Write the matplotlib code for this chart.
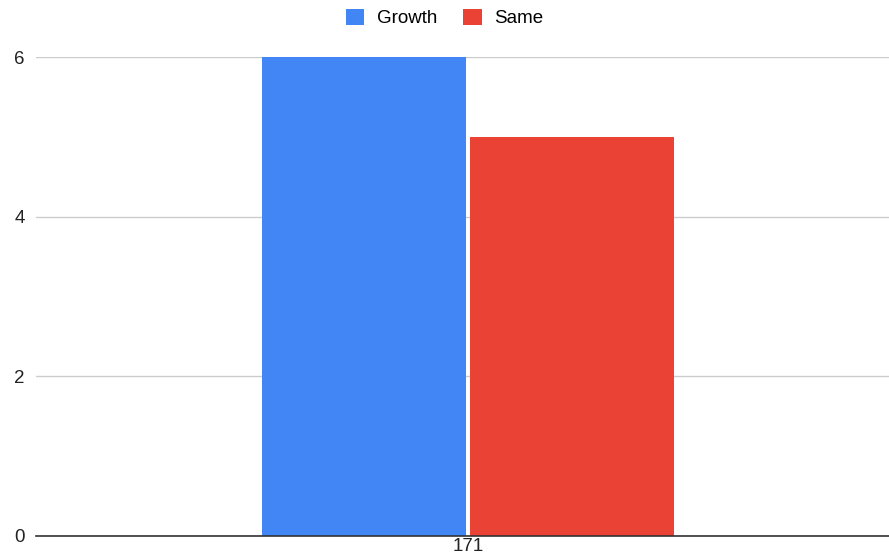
from matplotlib import pyplot as plt
import numpy as np

categories = ['171']
series_names = ['Growth', 'Same']
growth = [6]
same = [5]
colors = ['#4285F4', '#EA4335']

plt.rcParams['font.family'] = ['Liberation Sans', 'DejaVu Sans']
FS = 13.5

fig = plt.figure(figsize=(8.89, 5.55), dpi=100)
ax = fig.add_axes([36 / 889, 19 / 555, 853 / 889, (536 - 57) / 555])

x = np.arange(len(categories))
width = 0.239
gap = 0.0024
ax.bar(x - width / 2 - gap, growth, width, color=colors[0], label=series_names[0], zorder=3)
ax.bar(x + width / 2 + gap, same, width, color=colors[1], label=series_names[1], zorder=3)

ax.set_xlim(-0.5065, 0.4935)
ax.set_ylim(0, 6)
ax.set_yticks([0, 2, 4, 6])
ax.set_xticks(x)
ax.set_xticklabels(categories)
ax.yaxis.grid(which='major', color='#cccccc', linewidth=1, zorder=0)
ax.tick_params(axis='both', length=0, labelsize=FS, colors='#222222')
ax.tick_params(axis='y', pad=8)
ax.tick_params(axis='x', pad=1.5)

for side in ['top', 'right', 'left']:
    ax.spines[side].set_visible(False)
ax.spines['bottom'].set_color('#333333')
ax.spines['bottom'].set_linewidth(1.2)
ax.spines['bottom'].set_zorder(4)

fig.legend(ncol=2, loc='center', bbox_to_anchor=(0.5, 1 - 18 / 555), frameon=False,
           fontsize=FS, handlelength=1.0, handleheight=1.0, handletextpad=0.65,
           columnspacing=1.4, borderaxespad=0, borderpad=0)

plt.savefig('out.png', dpi=100)
